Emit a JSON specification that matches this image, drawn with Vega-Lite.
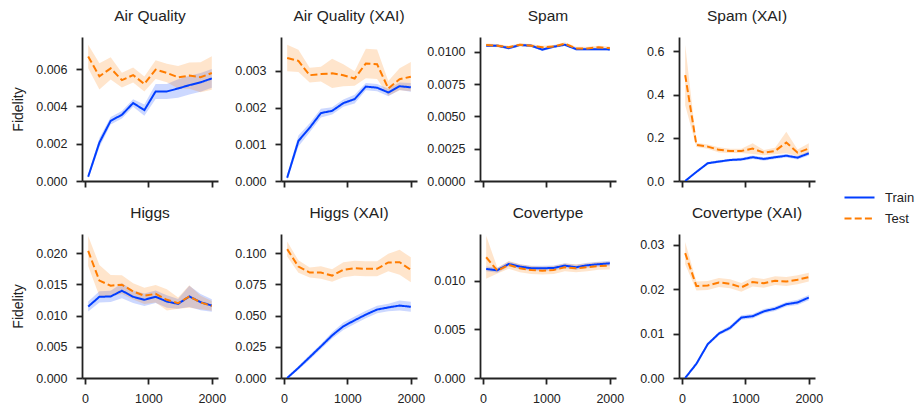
{
"$schema": "https://vega.github.io/schema/vega-lite/v6.json",
"padding": {"left": 11, "top": 8, "right": 5, "bottom": 5},
"background": "white",
"config": {
  "font": "Liberation Sans",
  "view": {"stroke": null},
  "axis": {"grid": false, "domainColor": "#222222", "tickColor": "#222222", "labelColor": "#222222", "titleColor": "#222222", "domainWidth": 1.8, "tickWidth": 1.8, "tickSize": 6, "labelFontSize": 12.5, "labelOverlap": false, "titleFontSize": 14, "titleFontWeight": "normal", "titlePadding": 10},
  "axisX": {"labelPadding": 8, "format": "d"},
  "axisY": {"labelPadding": 9},
  "title": {"fontSize": 15.5, "fontWeight": "normal", "color": "#222222", "anchor": "middle", "baseline": "alphabetic", "offset": 13},
  "legend": {"orient": "none", "legendX": 771, "legendY": 154, "padding": 0, "labelFontSize": 13, "labelColor": "#222222", "symbolType": "M-3,0H3", "symbolSize": 100, "symbolStrokeWidth": 2, "labelOffset": 19, "rowPadding": 7}
},
"data": {"name": "fid"},
"datasets": {"fid": [
{"d":"Air Quality","s":"Train","x":50,"m":0.00023,"lo":0.00013,"hi":0.00033},
{"d":"Air Quality","s":"Train","x":227,"m":0.00206,"lo":0.00181,"hi":0.00231},
{"d":"Air Quality","s":"Train","x":405,"m":0.00323,"lo":0.00303,"hi":0.00343},
{"d":"Air Quality","s":"Train","x":582,"m":0.00355,"lo":0.00335,"hi":0.00375},
{"d":"Air Quality","s":"Train","x":759,"m":0.00418,"lo":0.00398,"hi":0.00438},
{"d":"Air Quality","s":"Train","x":936,"m":0.0038,"lo":0.0035,"hi":0.0041},
{"d":"Air Quality","s":"Train","x":1114,"m":0.0048,"lo":0.0044,"hi":0.0052},
{"d":"Air Quality","s":"Train","x":1291,"m":0.0048,"lo":0.0044,"hi":0.0052},
{"d":"Air Quality","s":"Train","x":1468,"m":0.00496,"lo":0.00446,"hi":0.00546},
{"d":"Air Quality","s":"Train","x":1645,"m":0.00514,"lo":0.00464,"hi":0.00564},
{"d":"Air Quality","s":"Train","x":1823,"m":0.00529,"lo":0.00479,"hi":0.00579},
{"d":"Air Quality","s":"Train","x":2000,"m":0.0055,"lo":0.005,"hi":0.006},
{"d":"Air Quality","s":"Test","x":50,"m":0.00668,"lo":0.00605,"hi":0.00731},
{"d":"Air Quality","s":"Test","x":227,"m":0.00561,"lo":0.00491,"hi":0.00631},
{"d":"Air Quality","s":"Test","x":405,"m":0.00604,"lo":0.00544,"hi":0.00664},
{"d":"Air Quality","s":"Test","x":582,"m":0.00541,"lo":0.00501,"hi":0.00581},
{"d":"Air Quality","s":"Test","x":759,"m":0.00568,"lo":0.00528,"hi":0.00608},
{"d":"Air Quality","s":"Test","x":936,"m":0.0052,"lo":0.0048,"hi":0.0056},
{"d":"Air Quality","s":"Test","x":1114,"m":0.00597,"lo":0.00547,"hi":0.00647},
{"d":"Air Quality","s":"Test","x":1291,"m":0.00579,"lo":0.00529,"hi":0.00629},
{"d":"Air Quality","s":"Test","x":1468,"m":0.00556,"lo":0.00496,"hi":0.00616},
{"d":"Air Quality","s":"Test","x":1645,"m":0.00565,"lo":0.00495,"hi":0.00635},
{"d":"Air Quality","s":"Test","x":1823,"m":0.00556,"lo":0.00476,"hi":0.00636},
{"d":"Air Quality","s":"Test","x":2000,"m":0.00579,"lo":0.00489,"hi":0.00669},
{"d":"Air Quality (XAI)","s":"Train","x":50,"m":0.00009,"lo":0.00002,"hi":0.00016},
{"d":"Air Quality (XAI)","s":"Train","x":227,"m":0.00109,"lo":0.00094,"hi":0.00124},
{"d":"Air Quality (XAI)","s":"Train","x":405,"m":0.00145,"lo":0.00133,"hi":0.00157},
{"d":"Air Quality (XAI)","s":"Train","x":582,"m":0.00185,"lo":0.00173,"hi":0.00197},
{"d":"Air Quality (XAI)","s":"Train","x":759,"m":0.00191,"lo":0.00181,"hi":0.00201},
{"d":"Air Quality (XAI)","s":"Train","x":936,"m":0.00212,"lo":0.00202,"hi":0.00222},
{"d":"Air Quality (XAI)","s":"Train","x":1114,"m":0.00223,"lo":0.00211,"hi":0.00235},
{"d":"Air Quality (XAI)","s":"Train","x":1291,"m":0.00257,"lo":0.00247,"hi":0.00267},
{"d":"Air Quality (XAI)","s":"Train","x":1468,"m":0.00254,"lo":0.00244,"hi":0.00264},
{"d":"Air Quality (XAI)","s":"Train","x":1645,"m":0.00241,"lo":0.00231,"hi":0.00251},
{"d":"Air Quality (XAI)","s":"Train","x":1823,"m":0.00258,"lo":0.00248,"hi":0.00268},
{"d":"Air Quality (XAI)","s":"Train","x":2000,"m":0.00255,"lo":0.00243,"hi":0.00267},
{"d":"Air Quality (XAI)","s":"Test","x":50,"m":0.00335,"lo":0.00299,"hi":0.00371},
{"d":"Air Quality (XAI)","s":"Test","x":227,"m":0.00327,"lo":0.00297,"hi":0.00357},
{"d":"Air Quality (XAI)","s":"Test","x":405,"m":0.00288,"lo":0.00268,"hi":0.00308},
{"d":"Air Quality (XAI)","s":"Test","x":582,"m":0.00291,"lo":0.00271,"hi":0.00311},
{"d":"Air Quality (XAI)","s":"Test","x":759,"m":0.00293,"lo":0.00253,"hi":0.00333},
{"d":"Air Quality (XAI)","s":"Test","x":936,"m":0.00288,"lo":0.00258,"hi":0.00318},
{"d":"Air Quality (XAI)","s":"Test","x":1114,"m":0.00279,"lo":0.00259,"hi":0.00299},
{"d":"Air Quality (XAI)","s":"Test","x":1291,"m":0.0032,"lo":0.0028,"hi":0.0036},
{"d":"Air Quality (XAI)","s":"Test","x":1468,"m":0.00318,"lo":0.00278,"hi":0.00358},
{"d":"Air Quality (XAI)","s":"Test","x":1645,"m":0.00252,"lo":0.00232,"hi":0.00272},
{"d":"Air Quality (XAI)","s":"Test","x":1823,"m":0.00277,"lo":0.00247,"hi":0.00307},
{"d":"Air Quality (XAI)","s":"Test","x":2000,"m":0.00284,"lo":0.00244,"hi":0.00324},
{"d":"Spam","s":"Train","x":50,"m":0.01047,"lo":0.01037,"hi":0.01057},
{"d":"Spam","s":"Train","x":227,"m":0.01047,"lo":0.01037,"hi":0.01057},
{"d":"Spam","s":"Train","x":405,"m":0.01028,"lo":0.01018,"hi":0.01038},
{"d":"Spam","s":"Train","x":582,"m":0.01052,"lo":0.01042,"hi":0.01062},
{"d":"Spam","s":"Train","x":759,"m":0.01047,"lo":0.01037,"hi":0.01057},
{"d":"Spam","s":"Train","x":936,"m":0.01016,"lo":0.01006,"hi":0.01026},
{"d":"Spam","s":"Train","x":1114,"m":0.01039,"lo":0.01029,"hi":0.01049},
{"d":"Spam","s":"Train","x":1291,"m":0.01054,"lo":0.01044,"hi":0.01064},
{"d":"Spam","s":"Train","x":1468,"m":0.0102,"lo":0.0101,"hi":0.0103},
{"d":"Spam","s":"Train","x":1645,"m":0.0102,"lo":0.0101,"hi":0.0103},
{"d":"Spam","s":"Train","x":1823,"m":0.0102,"lo":0.0101,"hi":0.0103},
{"d":"Spam","s":"Train","x":2000,"m":0.01018,"lo":0.01008,"hi":0.01028},
{"d":"Spam","s":"Test","x":50,"m":0.01052,"lo":0.0104,"hi":0.01064},
{"d":"Spam","s":"Test","x":227,"m":0.01047,"lo":0.01035,"hi":0.01059},
{"d":"Spam","s":"Test","x":405,"m":0.01034,"lo":0.01022,"hi":0.01046},
{"d":"Spam","s":"Test","x":582,"m":0.01054,"lo":0.01042,"hi":0.01066},
{"d":"Spam","s":"Test","x":759,"m":0.01047,"lo":0.01035,"hi":0.01059},
{"d":"Spam","s":"Test","x":936,"m":0.01034,"lo":0.01022,"hi":0.01046},
{"d":"Spam","s":"Test","x":1114,"m":0.01041,"lo":0.01029,"hi":0.01053},
{"d":"Spam","s":"Test","x":1291,"m":0.01062,"lo":0.0105,"hi":0.01074},
{"d":"Spam","s":"Test","x":1468,"m":0.01026,"lo":0.01014,"hi":0.01038},
{"d":"Spam","s":"Test","x":1645,"m":0.01026,"lo":0.01014,"hi":0.01038},
{"d":"Spam","s":"Test","x":1823,"m":0.01034,"lo":0.01022,"hi":0.01046},
{"d":"Spam","s":"Test","x":2000,"m":0.01028,"lo":0.01016,"hi":0.0104},
{"d":"Spam (XAI)","s":"Train","x":50,"m":0.0,"lo":0.0,"hi":0.003},
{"d":"Spam (XAI)","s":"Train","x":227,"m":0.042,"lo":0.037,"hi":0.047},
{"d":"Spam (XAI)","s":"Train","x":405,"m":0.082,"lo":0.076,"hi":0.088},
{"d":"Spam (XAI)","s":"Train","x":582,"m":0.09,"lo":0.084,"hi":0.096},
{"d":"Spam (XAI)","s":"Train","x":759,"m":0.097,"lo":0.091,"hi":0.103},
{"d":"Spam (XAI)","s":"Train","x":936,"m":0.1,"lo":0.093,"hi":0.107},
{"d":"Spam (XAI)","s":"Train","x":1114,"m":0.11,"lo":0.102,"hi":0.118},
{"d":"Spam (XAI)","s":"Train","x":1291,"m":0.102,"lo":0.094,"hi":0.11},
{"d":"Spam (XAI)","s":"Train","x":1468,"m":0.11,"lo":0.102,"hi":0.118},
{"d":"Spam (XAI)","s":"Train","x":1645,"m":0.117,"lo":0.109,"hi":0.125},
{"d":"Spam (XAI)","s":"Train","x":1823,"m":0.108,"lo":0.1,"hi":0.116},
{"d":"Spam (XAI)","s":"Train","x":2000,"m":0.128,"lo":0.118,"hi":0.138},
{"d":"Spam (XAI)","s":"Test","x":50,"m":0.49,"lo":0.35,"hi":0.63},
{"d":"Spam (XAI)","s":"Test","x":227,"m":0.167,"lo":0.157,"hi":0.177},
{"d":"Spam (XAI)","s":"Test","x":405,"m":0.159,"lo":0.149,"hi":0.169},
{"d":"Spam (XAI)","s":"Test","x":582,"m":0.144,"lo":0.132,"hi":0.156},
{"d":"Spam (XAI)","s":"Test","x":759,"m":0.139,"lo":0.129,"hi":0.149},
{"d":"Spam (XAI)","s":"Test","x":936,"m":0.139,"lo":0.129,"hi":0.149},
{"d":"Spam (XAI)","s":"Test","x":1114,"m":0.15,"lo":0.125,"hi":0.175},
{"d":"Spam (XAI)","s":"Test","x":1291,"m":0.131,"lo":0.119,"hi":0.143},
{"d":"Spam (XAI)","s":"Test","x":1468,"m":0.139,"lo":0.124,"hi":0.154},
{"d":"Spam (XAI)","s":"Test","x":1645,"m":0.178,"lo":0.128,"hi":0.228},
{"d":"Spam (XAI)","s":"Test","x":1823,"m":0.131,"lo":0.116,"hi":0.146},
{"d":"Spam (XAI)","s":"Test","x":2000,"m":0.15,"lo":0.125,"hi":0.175},
{"d":"Higgs","s":"Train","x":50,"m":0.01146,"lo":0.01066,"hi":0.01226},
{"d":"Higgs","s":"Train","x":227,"m":0.01303,"lo":0.01213,"hi":0.01393},
{"d":"Higgs","s":"Train","x":405,"m":0.01308,"lo":0.01218,"hi":0.01398},
{"d":"Higgs","s":"Train","x":582,"m":0.014,"lo":0.0128,"hi":0.0152},
{"d":"Higgs","s":"Train","x":759,"m":0.01303,"lo":0.01203,"hi":0.01403},
{"d":"Higgs","s":"Train","x":936,"m":0.01254,"lo":0.01154,"hi":0.01354},
{"d":"Higgs","s":"Train","x":1114,"m":0.01303,"lo":0.01203,"hi":0.01403},
{"d":"Higgs","s":"Train","x":1291,"m":0.01227,"lo":0.01127,"hi":0.01327},
{"d":"Higgs","s":"Train","x":1468,"m":0.01189,"lo":0.01109,"hi":0.01269},
{"d":"Higgs","s":"Train","x":1645,"m":0.01308,"lo":0.01138,"hi":0.01478},
{"d":"Higgs","s":"Train","x":1823,"m":0.01216,"lo":0.01086,"hi":0.01346},
{"d":"Higgs","s":"Train","x":2000,"m":0.01162,"lo":0.01062,"hi":0.01262},
{"d":"Higgs","s":"Test","x":50,"m":0.02038,"lo":0.01798,"hi":0.02278},
{"d":"Higgs","s":"Test","x":227,"m":0.01562,"lo":0.01312,"hi":0.01812},
{"d":"Higgs","s":"Test","x":405,"m":0.01481,"lo":0.01311,"hi":0.01651},
{"d":"Higgs","s":"Test","x":582,"m":0.01497,"lo":0.01347,"hi":0.01647},
{"d":"Higgs","s":"Test","x":759,"m":0.01389,"lo":0.01259,"hi":0.01519},
{"d":"Higgs","s":"Test","x":936,"m":0.01319,"lo":0.01189,"hi":0.01449},
{"d":"Higgs","s":"Test","x":1114,"m":0.01351,"lo":0.01211,"hi":0.01491},
{"d":"Higgs","s":"Test","x":1291,"m":0.01254,"lo":0.01084,"hi":0.01424},
{"d":"Higgs","s":"Test","x":1468,"m":0.012,"lo":0.0111,"hi":0.0129},
{"d":"Higgs","s":"Test","x":1645,"m":0.01308,"lo":0.01128,"hi":0.01488},
{"d":"Higgs","s":"Test","x":1823,"m":0.01211,"lo":0.01101,"hi":0.01321},
{"d":"Higgs","s":"Test","x":2000,"m":0.01157,"lo":0.01077,"hi":0.01237},
{"d":"Higgs (XAI)","s":"Train","x":50,"m":0.0,"lo":0.0,"hi":0.001},
{"d":"Higgs (XAI)","s":"Train","x":227,"m":0.0081,"lo":0.0066,"hi":0.0096},
{"d":"Higgs (XAI)","s":"Train","x":405,"m":0.0167,"lo":0.0147,"hi":0.0187},
{"d":"Higgs (XAI)","s":"Train","x":582,"m":0.0253,"lo":0.0233,"hi":0.0273},
{"d":"Higgs (XAI)","s":"Train","x":759,"m":0.0341,"lo":0.0316,"hi":0.0366},
{"d":"Higgs (XAI)","s":"Train","x":936,"m":0.0414,"lo":0.0384,"hi":0.0444},
{"d":"Higgs (XAI)","s":"Train","x":1114,"m":0.0462,"lo":0.0432,"hi":0.0492},
{"d":"Higgs (XAI)","s":"Train","x":1291,"m":0.0508,"lo":0.0478,"hi":0.0538},
{"d":"Higgs (XAI)","s":"Train","x":1468,"m":0.0548,"lo":0.0518,"hi":0.0578},
{"d":"Higgs (XAI)","s":"Train","x":1645,"m":0.0565,"lo":0.0535,"hi":0.0595},
{"d":"Higgs (XAI)","s":"Train","x":1823,"m":0.058,"lo":0.054,"hi":0.062},
{"d":"Higgs (XAI)","s":"Train","x":2000,"m":0.057,"lo":0.053,"hi":0.061},
{"d":"Higgs (XAI)","s":"Test","x":50,"m":0.1032,"lo":0.0972,"hi":0.1092},
{"d":"Higgs (XAI)","s":"Test","x":227,"m":0.0892,"lo":0.0842,"hi":0.0942},
{"d":"Higgs (XAI)","s":"Test","x":405,"m":0.0844,"lo":0.0804,"hi":0.0884},
{"d":"Higgs (XAI)","s":"Test","x":582,"m":0.0844,"lo":0.0794,"hi":0.0894},
{"d":"Higgs (XAI)","s":"Test","x":759,"m":0.082,"lo":0.077,"hi":0.087},
{"d":"Higgs (XAI)","s":"Test","x":936,"m":0.0866,"lo":0.0806,"hi":0.0926},
{"d":"Higgs (XAI)","s":"Test","x":1114,"m":0.0879,"lo":0.0819,"hi":0.0939},
{"d":"Higgs (XAI)","s":"Test","x":1291,"m":0.0874,"lo":0.0814,"hi":0.0934},
{"d":"Higgs (XAI)","s":"Test","x":1468,"m":0.0874,"lo":0.0814,"hi":0.0934},
{"d":"Higgs (XAI)","s":"Test","x":1645,"m":0.0925,"lo":0.0855,"hi":0.0995},
{"d":"Higgs (XAI)","s":"Test","x":1823,"m":0.0927,"lo":0.0827,"hi":0.1027},
{"d":"Higgs (XAI)","s":"Test","x":2000,"m":0.0866,"lo":0.0766,"hi":0.0966},
{"d":"Covertype","s":"Train","x":50,"m":0.01121,"lo":0.01096,"hi":0.01146},
{"d":"Covertype","s":"Train","x":227,"m":0.01107,"lo":0.01082,"hi":0.01132},
{"d":"Covertype","s":"Train","x":405,"m":0.01172,"lo":0.01147,"hi":0.01197},
{"d":"Covertype","s":"Train","x":582,"m":0.01145,"lo":0.0112,"hi":0.0117},
{"d":"Covertype","s":"Train","x":759,"m":0.01128,"lo":0.01103,"hi":0.01153},
{"d":"Covertype","s":"Train","x":936,"m":0.01128,"lo":0.01103,"hi":0.01153},
{"d":"Covertype","s":"Train","x":1114,"m":0.01131,"lo":0.01106,"hi":0.01156},
{"d":"Covertype","s":"Train","x":1291,"m":0.01155,"lo":0.0113,"hi":0.0118},
{"d":"Covertype","s":"Train","x":1468,"m":0.01138,"lo":0.01113,"hi":0.01163},
{"d":"Covertype","s":"Train","x":1645,"m":0.01159,"lo":0.01134,"hi":0.01184},
{"d":"Covertype","s":"Train","x":1823,"m":0.01169,"lo":0.01144,"hi":0.01194},
{"d":"Covertype","s":"Train","x":2000,"m":0.01179,"lo":0.01154,"hi":0.01204},
{"d":"Covertype","s":"Test","x":50,"m":0.01241,"lo":0.01021,"hi":0.01461},
{"d":"Covertype","s":"Test","x":227,"m":0.01103,"lo":0.01073,"hi":0.01133},
{"d":"Covertype","s":"Test","x":405,"m":0.01162,"lo":0.01122,"hi":0.01202},
{"d":"Covertype","s":"Test","x":582,"m":0.01128,"lo":0.01088,"hi":0.01168},
{"d":"Covertype","s":"Test","x":759,"m":0.0111,"lo":0.0107,"hi":0.0115},
{"d":"Covertype","s":"Test","x":936,"m":0.01103,"lo":0.01063,"hi":0.01143},
{"d":"Covertype","s":"Test","x":1114,"m":0.0111,"lo":0.0107,"hi":0.0115},
{"d":"Covertype","s":"Test","x":1291,"m":0.01138,"lo":0.01098,"hi":0.01178},
{"d":"Covertype","s":"Test","x":1468,"m":0.01128,"lo":0.01088,"hi":0.01168},
{"d":"Covertype","s":"Test","x":1645,"m":0.01138,"lo":0.01098,"hi":0.01178},
{"d":"Covertype","s":"Test","x":1823,"m":0.01152,"lo":0.01112,"hi":0.01192},
{"d":"Covertype","s":"Test","x":2000,"m":0.01155,"lo":0.01115,"hi":0.01195},
{"d":"Covertype (XAI)","s":"Train","x":50,"m":0.0,"lo":0.0,"hi":0.0003},
{"d":"Covertype (XAI)","s":"Train","x":227,"m":0.0032,"lo":0.0028,"hi":0.0036},
{"d":"Covertype (XAI)","s":"Train","x":405,"m":0.0076,"lo":0.0072,"hi":0.008},
{"d":"Covertype (XAI)","s":"Train","x":582,"m":0.01,"lo":0.0096,"hi":0.0104},
{"d":"Covertype (XAI)","s":"Train","x":759,"m":0.0113,"lo":0.0108,"hi":0.0118},
{"d":"Covertype (XAI)","s":"Train","x":936,"m":0.0136,"lo":0.0131,"hi":0.0141},
{"d":"Covertype (XAI)","s":"Train","x":1114,"m":0.0139,"lo":0.0134,"hi":0.0144},
{"d":"Covertype (XAI)","s":"Train","x":1291,"m":0.015,"lo":0.0145,"hi":0.0155},
{"d":"Covertype (XAI)","s":"Train","x":1468,"m":0.0156,"lo":0.0151,"hi":0.0161},
{"d":"Covertype (XAI)","s":"Train","x":1645,"m":0.0166,"lo":0.0161,"hi":0.0171},
{"d":"Covertype (XAI)","s":"Train","x":1823,"m":0.017,"lo":0.0164,"hi":0.0176},
{"d":"Covertype (XAI)","s":"Train","x":2000,"m":0.0181,"lo":0.0175,"hi":0.0187},
{"d":"Covertype (XAI)","s":"Test","x":50,"m":0.0281,"lo":0.0256,"hi":0.0306},
{"d":"Covertype (XAI)","s":"Test","x":227,"m":0.0207,"lo":0.0197,"hi":0.0217},
{"d":"Covertype (XAI)","s":"Test","x":405,"m":0.0208,"lo":0.0198,"hi":0.0218},
{"d":"Covertype (XAI)","s":"Test","x":582,"m":0.0215,"lo":0.0205,"hi":0.0225},
{"d":"Covertype (XAI)","s":"Test","x":759,"m":0.0212,"lo":0.0202,"hi":0.0222},
{"d":"Covertype (XAI)","s":"Test","x":936,"m":0.0204,"lo":0.0194,"hi":0.0214},
{"d":"Covertype (XAI)","s":"Test","x":1114,"m":0.0216,"lo":0.0206,"hi":0.0226},
{"d":"Covertype (XAI)","s":"Test","x":1291,"m":0.0213,"lo":0.0203,"hi":0.0223},
{"d":"Covertype (XAI)","s":"Test","x":1468,"m":0.0219,"lo":0.0209,"hi":0.0229},
{"d":"Covertype (XAI)","s":"Test","x":1645,"m":0.0217,"lo":0.0207,"hi":0.0227},
{"d":"Covertype (XAI)","s":"Test","x":1823,"m":0.0221,"lo":0.0211,"hi":0.0231},
{"d":"Covertype (XAI)","s":"Test","x":2000,"m":0.0227,"lo":0.0217,"hi":0.0237}
]},
"columns": 4,
"spacing": {"row": 53, "column": 63},
"bounds": "flush",
"resolve": {"scale": {"x": "independent", "y": "independent", "stroke": "shared", "strokeDash": "shared"}},
"concat": [
{"title": "Air Quality", "width": 136, "height": 144,
 "transform": [{"filter": "datum.d === 'Air Quality'"}],
 "encoding": {"x": {"field": "x", "type": "quantitative", "scale": {"domain": [-47.5, 2097.5], "nice": false, "zero": false}, "axis": {"values": [0, 1000, 2000], "labels": false, "title": null}}},
 "layer": [
  {"transform": [{"filter": "datum.s === 'Train'"}], "mark": {"type": "area", "color": "#023eff", "opacity": 0.2, "clip": true}, "encoding": {"y": {"field": "lo", "type": "quantitative", "title": "Fidelity", "scale": {"domain": [0, 0.00772], "nice": false}, "axis": {"values": [0, 0.002, 0.004, 0.006], "format": ".3f"}}, "y2": {"field": "hi"}}},
  {"transform": [{"filter": "datum.s === 'Test'"}], "mark": {"type": "area", "color": "#ff7c00", "opacity": 0.2, "clip": true}, "encoding": {"y": {"field": "lo", "type": "quantitative", "title": "Fidelity", "axis": {"values": [0, 0.002, 0.004, 0.006], "format": ".3f"}}, "y2": {"field": "hi"}}},
  {"mark": {"type": "line", "strokeWidth": 2, "clip": true}, "encoding": {"y": {"field": "m", "type": "quantitative", "title": "Fidelity", "axis": {"values": [0, 0.002, 0.004, 0.006], "format": ".3f"}},
    "stroke": {"field": "s", "type": "nominal", "title": null, "scale": {"domain": ["Train", "Test"], "range": ["#023eff", "#ff7c00"]}},
    "strokeDash": {"field": "s", "type": "nominal", "title": null, "scale": {"domain": ["Train", "Test"], "range": [[1, 0], [7, 3.2]]}}}}
 ]},
{"title": "Air Quality (XAI)", "width": 136, "height": 144,
 "transform": [{"filter": "datum.d === 'Air Quality (XAI)'"}],
 "encoding": {"x": {"field": "x", "type": "quantitative", "scale": {"domain": [-47.5, 2097.5], "nice": false, "zero": false}, "axis": {"values": [0, 1000, 2000], "labels": false, "title": null}}},
 "layer": [
  {"transform": [{"filter": "datum.s === 'Train'"}], "mark": {"type": "area", "color": "#023eff", "opacity": 0.2, "clip": true}, "encoding": {"y": {"field": "lo", "type": "quantitative", "title": null, "scale": {"domain": [0, 0.00392], "nice": false}, "axis": {"values": [0, 0.001, 0.002, 0.003], "format": ".3f"}}, "y2": {"field": "hi"}}},
  {"transform": [{"filter": "datum.s === 'Test'"}], "mark": {"type": "area", "color": "#ff7c00", "opacity": 0.2, "clip": true}, "encoding": {"y": {"field": "lo", "type": "quantitative", "title": null, "axis": {"values": [0, 0.001, 0.002, 0.003], "format": ".3f"}}, "y2": {"field": "hi"}}},
  {"mark": {"type": "line", "strokeWidth": 2, "clip": true}, "encoding": {"y": {"field": "m", "type": "quantitative", "title": null, "axis": {"values": [0, 0.001, 0.002, 0.003], "format": ".3f"}}, "stroke": {"field": "s", "type": "nominal", "title": null}, "strokeDash": {"field": "s", "type": "nominal", "title": null}}}
 ]},
{"title": "Spam", "width": 136, "height": 144,
 "transform": [{"filter": "datum.d === 'Spam'"}],
 "encoding": {"x": {"field": "x", "type": "quantitative", "scale": {"domain": [-47.5, 2097.5], "nice": false, "zero": false}, "axis": {"values": [0, 1000, 2000], "labels": false, "title": null}}},
 "layer": [
  {"transform": [{"filter": "datum.s === 'Train'"}], "mark": {"type": "area", "color": "#023eff", "opacity": 0.2, "clip": true}, "encoding": {"y": {"field": "lo", "type": "quantitative", "title": null, "scale": {"domain": [0, 0.01114], "nice": false}, "axis": {"values": [0, 0.0025, 0.005, 0.0075, 0.01], "format": ".4f"}}, "y2": {"field": "hi"}}},
  {"transform": [{"filter": "datum.s === 'Test'"}], "mark": {"type": "area", "color": "#ff7c00", "opacity": 0.2, "clip": true}, "encoding": {"y": {"field": "lo", "type": "quantitative", "title": null, "axis": {"values": [0, 0.0025, 0.005, 0.0075, 0.01], "format": ".4f"}}, "y2": {"field": "hi"}}},
  {"mark": {"type": "line", "strokeWidth": 2, "clip": true}, "encoding": {"y": {"field": "m", "type": "quantitative", "title": null, "axis": {"values": [0, 0.0025, 0.005, 0.0075, 0.01], "format": ".4f"}}, "stroke": {"field": "s", "type": "nominal", "title": null}, "strokeDash": {"field": "s", "type": "nominal", "title": null}}}
 ]},
{"title": "Spam (XAI)", "width": 136, "height": 144,
 "transform": [{"filter": "datum.d === 'Spam (XAI)'"}],
 "encoding": {"x": {"field": "x", "type": "quantitative", "scale": {"domain": [-47.5, 2097.5], "nice": false, "zero": false}, "axis": {"values": [0, 1000, 2000], "labels": false, "title": null}}},
 "layer": [
  {"transform": [{"filter": "datum.s === 'Train'"}], "mark": {"type": "area", "color": "#023eff", "opacity": 0.2, "clip": true}, "encoding": {"y": {"field": "lo", "type": "quantitative", "title": null, "scale": {"domain": [0, 0.666], "nice": false}, "axis": {"values": [0, 0.2, 0.4, 0.6], "format": ".1f"}}, "y2": {"field": "hi"}}},
  {"transform": [{"filter": "datum.s === 'Test'"}], "mark": {"type": "area", "color": "#ff7c00", "opacity": 0.2, "clip": true}, "encoding": {"y": {"field": "lo", "type": "quantitative", "title": null, "axis": {"values": [0, 0.2, 0.4, 0.6], "format": ".1f"}}, "y2": {"field": "hi"}}},
  {"mark": {"type": "line", "strokeWidth": 2, "clip": true}, "encoding": {"y": {"field": "m", "type": "quantitative", "title": null, "axis": {"values": [0, 0.2, 0.4, 0.6], "format": ".1f"}}, "stroke": {"field": "s", "type": "nominal", "title": null}, "strokeDash": {"field": "s", "type": "nominal", "title": null}}}
 ]},
{"title": "Higgs", "width": 136, "height": 144,
 "transform": [{"filter": "datum.d === 'Higgs'"}],
 "encoding": {"x": {"field": "x", "type": "quantitative", "scale": {"domain": [-47.5, 2097.5], "nice": false, "zero": false}, "axis": {"values": [0, 1000, 2000], "title": null}}},
 "layer": [
  {"transform": [{"filter": "datum.s === 'Train'"}], "mark": {"type": "area", "color": "#023eff", "opacity": 0.2, "clip": true}, "encoding": {"y": {"field": "lo", "type": "quantitative", "title": "Fidelity", "scale": {"domain": [0, 0.0231], "nice": false}, "axis": {"values": [0, 0.005, 0.01, 0.015, 0.02], "format": ".3f"}}, "y2": {"field": "hi"}}},
  {"transform": [{"filter": "datum.s === 'Test'"}], "mark": {"type": "area", "color": "#ff7c00", "opacity": 0.2, "clip": true}, "encoding": {"y": {"field": "lo", "type": "quantitative", "title": "Fidelity", "axis": {"values": [0, 0.005, 0.01, 0.015, 0.02], "format": ".3f"}}, "y2": {"field": "hi"}}},
  {"mark": {"type": "line", "strokeWidth": 2, "clip": true}, "encoding": {"y": {"field": "m", "type": "quantitative", "title": "Fidelity", "axis": {"values": [0, 0.005, 0.01, 0.015, 0.02], "format": ".3f"}}, "stroke": {"field": "s", "type": "nominal", "title": null}, "strokeDash": {"field": "s", "type": "nominal", "title": null}}}
 ]},
{"title": "Higgs (XAI)", "width": 136, "height": 144,
 "transform": [{"filter": "datum.d === 'Higgs (XAI)'"}],
 "encoding": {"x": {"field": "x", "type": "quantitative", "scale": {"domain": [-47.5, 2097.5], "nice": false, "zero": false}, "axis": {"values": [0, 1000, 2000], "title": null}}},
 "layer": [
  {"transform": [{"filter": "datum.s === 'Train'"}], "mark": {"type": "area", "color": "#023eff", "opacity": 0.2, "clip": true}, "encoding": {"y": {"field": "lo", "type": "quantitative", "title": null, "scale": {"domain": [0, 0.1153], "nice": false}, "axis": {"values": [0, 0.025, 0.05, 0.075, 0.1], "format": ".3f"}}, "y2": {"field": "hi"}}},
  {"transform": [{"filter": "datum.s === 'Test'"}], "mark": {"type": "area", "color": "#ff7c00", "opacity": 0.2, "clip": true}, "encoding": {"y": {"field": "lo", "type": "quantitative", "title": null, "axis": {"values": [0, 0.025, 0.05, 0.075, 0.1], "format": ".3f"}}, "y2": {"field": "hi"}}},
  {"mark": {"type": "line", "strokeWidth": 2, "clip": true}, "encoding": {"y": {"field": "m", "type": "quantitative", "title": null, "axis": {"values": [0, 0.025, 0.05, 0.075, 0.1], "format": ".3f"}}, "stroke": {"field": "s", "type": "nominal", "title": null}, "strokeDash": {"field": "s", "type": "nominal", "title": null}}}
 ]},
{"title": "Covertype", "width": 136, "height": 144,
 "transform": [{"filter": "datum.d === 'Covertype'"}],
 "encoding": {"x": {"field": "x", "type": "quantitative", "scale": {"domain": [-47.5, 2097.5], "nice": false, "zero": false}, "axis": {"values": [0, 1000, 2000], "title": null}}},
 "layer": [
  {"transform": [{"filter": "datum.s === 'Train'"}], "mark": {"type": "area", "color": "#023eff", "opacity": 0.2, "clip": true}, "encoding": {"y": {"field": "lo", "type": "quantitative", "title": null, "scale": {"domain": [0, 0.0148], "nice": false}, "axis": {"values": [0, 0.005, 0.01], "format": ".3f"}}, "y2": {"field": "hi"}}},
  {"transform": [{"filter": "datum.s === 'Test'"}], "mark": {"type": "area", "color": "#ff7c00", "opacity": 0.2, "clip": true}, "encoding": {"y": {"field": "lo", "type": "quantitative", "title": null, "axis": {"values": [0, 0.005, 0.01], "format": ".3f"}}, "y2": {"field": "hi"}}},
  {"mark": {"type": "line", "strokeWidth": 2, "clip": true}, "encoding": {"y": {"field": "m", "type": "quantitative", "title": null, "axis": {"values": [0, 0.005, 0.01], "format": ".3f"}}, "stroke": {"field": "s", "type": "nominal", "title": null}, "strokeDash": {"field": "s", "type": "nominal", "title": null}}}
 ]},
{"title": "Covertype (XAI)", "width": 136, "height": 144,
 "transform": [{"filter": "datum.d === 'Covertype (XAI)'"}],
 "encoding": {"x": {"field": "x", "type": "quantitative", "scale": {"domain": [-47.5, 2097.5], "nice": false, "zero": false}, "axis": {"values": [0, 1000, 2000], "title": null}}},
 "layer": [
  {"transform": [{"filter": "datum.s === 'Train'"}], "mark": {"type": "area", "color": "#023eff", "opacity": 0.2, "clip": true}, "encoding": {"y": {"field": "lo", "type": "quantitative", "title": null, "scale": {"domain": [0, 0.0324], "nice": false}, "axis": {"values": [0, 0.01, 0.02, 0.03], "format": ".2f"}}, "y2": {"field": "hi"}}},
  {"transform": [{"filter": "datum.s === 'Test'"}], "mark": {"type": "area", "color": "#ff7c00", "opacity": 0.2, "clip": true}, "encoding": {"y": {"field": "lo", "type": "quantitative", "title": null, "axis": {"values": [0, 0.01, 0.02, 0.03], "format": ".2f"}}, "y2": {"field": "hi"}}},
  {"mark": {"type": "line", "strokeWidth": 2, "clip": true}, "encoding": {"y": {"field": "m", "type": "quantitative", "title": null, "axis": {"values": [0, 0.01, 0.02, 0.03], "format": ".2f"}}, "stroke": {"field": "s", "type": "nominal", "title": null}, "strokeDash": {"field": "s", "type": "nominal", "title": null}}}
 ]}
]
}
